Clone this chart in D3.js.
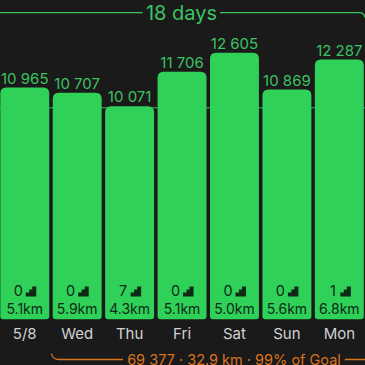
<!DOCTYPE html>
<html><head><meta charset="utf-8">
<script src="https://cdn.jsdelivr.net/npm/d3@7/dist/d3.min.js"></script>
<style>html,body{margin:0;padding:0;background:#1a1a1a}svg{display:block}text{font-family:Inter,Roboto,sans-serif}</style>
</head><body><div id="c"></div>
<script>
const days=["5/8","Wed","Thu","Fri","Sat","Sun","Mon"];
const steps=[10965,10707,10071,11706,12605,10869,12287];
const flights=[0,0,7,0,0,0,1];
const km=[5.1,5.9,4.3,5.1,5.0,5.6,6.8];
const goal=10000;
const streak="18 days";
const summary="69 377 · 32.9 km · 99% of Goal";
const W=365,H=365,base=319.3;
const x=d3.scaleBand().domain(days).range([0.3,363.8]).paddingInner(0.0668).paddingOuter(0);
const y=d3.scaleLinear().domain([0,12605]).range([base,52.7]);
const green="#30d158",lab="#3cc262",orange="#d9731c",dark="#0e2a17";
const svg=d3.select("#c").append("svg").attr("width",W).attr("height",H);
svg.append("rect").attr("width",W).attr("height",H).attr("fill","#1a1a1a");
svg.append("line").attr("x1",0).attr("x2",W).attr("y1",y(goal)).attr("y2",y(goal)).attr("stroke","#4fd675").attr("stroke-width",1).attr("opacity",.8);
const fmt=v=>d3.format(",")(v).replace(","," ");
const g=svg.selectAll("g.b").data(days).join("g").attr("class","b");
const r=6;
g.append("path").attr("fill",green).attr("d",d=>{
  const i=days.indexOf(d),a=x(d),w=x.bandwidth(),t=y(steps[i]);
  return `M${a},${base-3}V${t+r}Q${a},${t} ${a+r},${t}H${a+w-r}Q${a+w},${t} ${a+w},${t+r}V${base-3}Q${a+w},${base} ${a+w-3},${base}H${a+3}Q${a},${base} ${a},${base-3}Z`;});
const cx=d=>x(d)+x.bandwidth()/2;
g.append("text").attr("x",cx).attr("y",d=>y(steps[days.indexOf(d)])-3.8).attr("text-anchor","middle")
 .attr("font-size",15).attr("fill",lab).text(d=>fmt(steps[days.indexOf(d)]));
g.append("text").attr("x",d=>cx(d)-6.5).attr("y",296).attr("text-anchor","middle").attr("font-size",14.5).attr("fill",dark).text(d=>flights[days.indexOf(d)]);
g.append("path").attr("fill",dark).attr("transform",d=>`translate(${cx(d)+1},286.5)`)
 .attr("d","M0,10V6H3.5V3H6.5V0H10.5V10Z");
g.append("text").attr("x",cx).attr("y",314).attr("text-anchor","middle").attr("font-size",14).attr("fill",dark).text(d=>km[days.indexOf(d)].toFixed(1)+"km");
g.append("text").attr("x",cx).attr("y",338.5).attr("text-anchor","middle").attr("font-size",15).attr("fill","#d2d2d2").text(d=>d);
svg.append("text").attr("x",181.5).attr("y",20).attr("text-anchor","middle").attr("font-size",20).attr("fill",lab).text(streak);
svg.append("path").attr("fill","none").attr("stroke",lab).attr("stroke-width",1.3).attr("d","M0,12.7H142.7M220,12.7H359Q364,12.7 365,17.5");
svg.append("text").attr("x",234).attr("y",364.5).attr("text-anchor","middle").attr("font-size",14.5).attr("fill",orange).text(summary);
svg.append("path").attr("fill","none").attr("stroke",orange).attr("stroke-width",1.3).attr("d","M51.5,353.5Q52.5,359.5 59,359.5H123M344.7,359.5H365");
</script></body></html>
